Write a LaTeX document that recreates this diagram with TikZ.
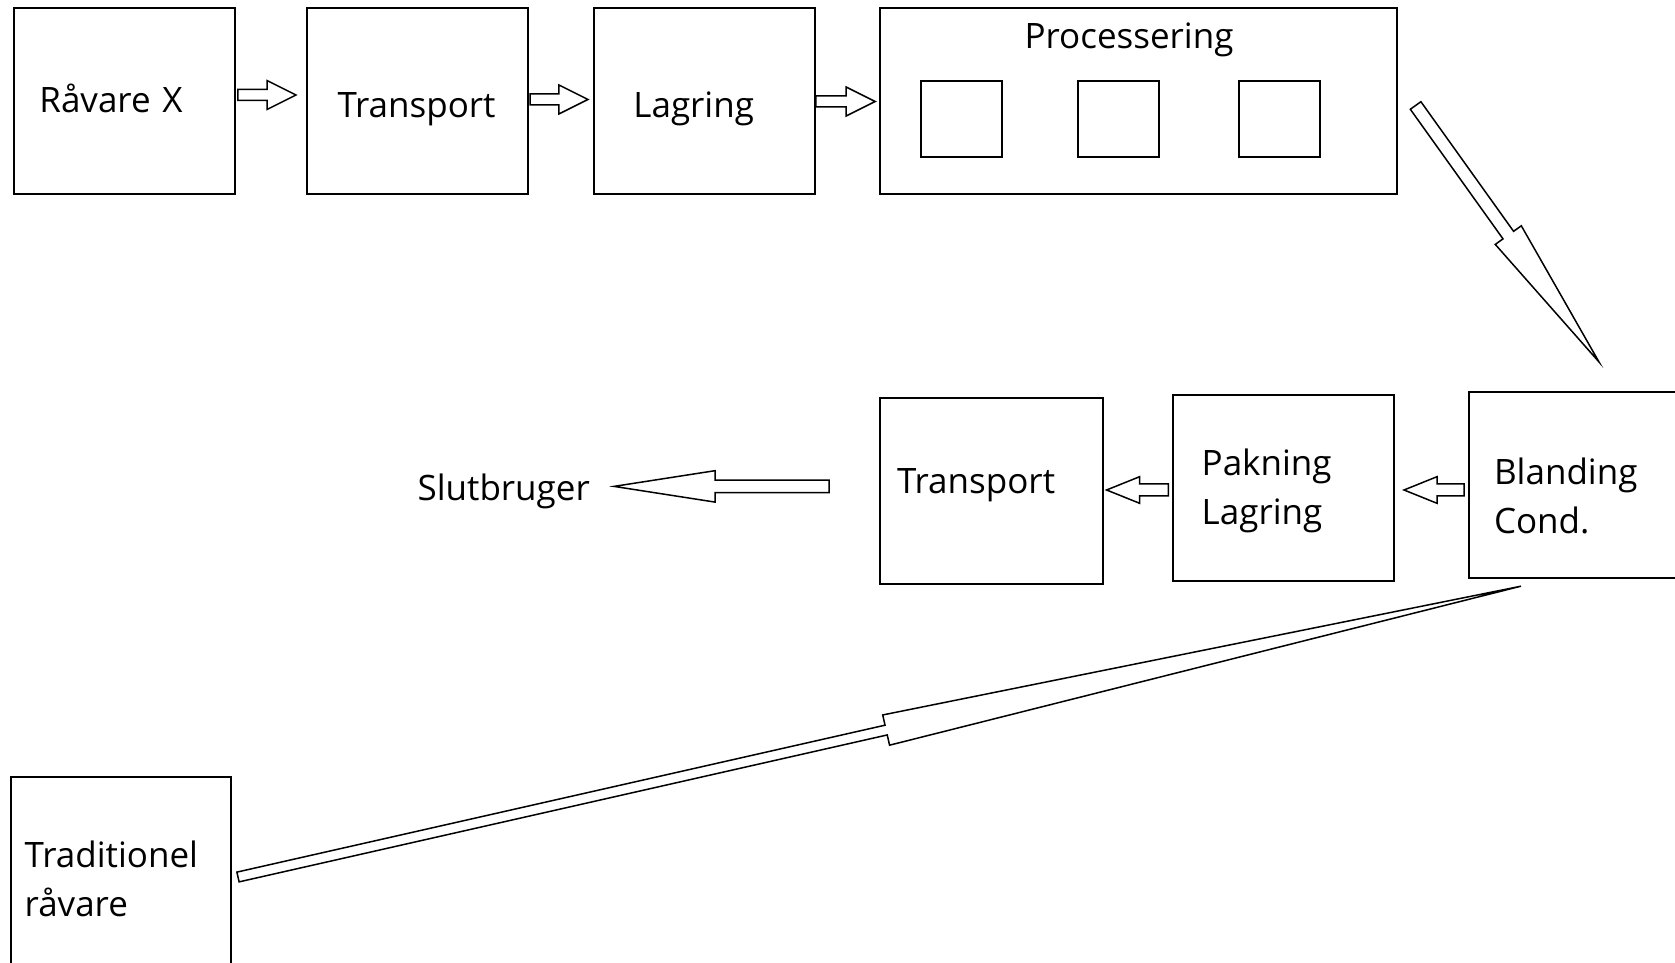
\documentclass[tikz,border=0pt]{standalone}
\usepackage{fontspec}
\setmainfont{Open Sans}
\usetikzlibrary{calc}
\tikzset{
  box/.style 2 args={draw, line width=2pt, minimum height=186pt, text width=#1-2*#2,
    inner xsep=#2, inner ysep=0pt, align=left, font=\fontsize{35}{49}\selectfont},
  sub/.style={draw, line width=2pt, minimum width=81pt, minimum height=76pt, inner sep=0pt},
  lbl/.style={inner sep=0pt, font=\fontsize{35}{49}\selectfont},
  arrowline/.style={draw=black, fill=white, line width=1.5pt, line join=miter},
}
% hollow block arrow: tail, tip, half shaft, half head, head length
\newcommand{\blockarrow}[5]{%
  \coordinate (hb) at ($(#2)!#5!(#1)$);
  \draw[arrowline] ($(#1)!#3!90:(#2)$) -- ($(hb)!#3!-90:(#1)$) -- ($(hb)!#4!-90:(#1)$)
    -- (#2) -- ($(hb)!#4!90:(#1)$) -- ($(hb)!#3!90:(#1)$) -- ($(#1)!#3!-90:(#2)$) -- cycle;}
\begin{document}
\begin{tikzpicture}[x=1pt,y=1pt]
\useasboundingbox (0,0) rectangle (1675,963);
\clip (0,0) rectangle (1675,963);
%% first row
\node[box={221pt}{25.5pt},text depth=6.4pt] (rawx) at (124.4,861.5) {Råvare X};
\node[box={221pt}{31pt},text height=40pt,text depth=8.4pt] (transp) at (417,861.5) {Transport};
\node[box={221pt}{39.5pt},text height=40pt,text depth=8.4pt] (lager) at (704.4,861.5) {Lagring};
\node[box={517pt}{0pt}] (proc) at (1138.6,861.5) {};
\node[lbl] (proctitle) at (1129,922.7) {Processering};
\foreach \x [count=\i] in {961.8,1118.2,1279}
  \node[sub] (pbox\i) at (\x,844) {};
%% second row
\node[box={231.5pt}{25.5pt},text height=48pt] (blend) at (1584.25,478) {Blanding\\Cond.};
\node[box={221pt}{29pt},text height=33pt] (pack) at (1283.2,475) {Pakning\\Lagring};
\node[box={223pt}{17pt},text height=25pt,text depth=19pt] (transp2) at (991.5,472) {Transport};
\node[lbl,anchor=east] (slut) at (590,472) {Slutbruger};
%% third row
\node[box={220pt}{14pt},minimum height=195.5pt,text height=33pt] (trad) at (120.7,87.75) {Traditionel\\råvare};
%% arrow ends
\coordinate (a1s) at ([shift={(2,6.5)}]rawx.east);
\coordinate (a1e) at ([shift={(-9.5,6.5)}]transp.west);
\coordinate (a2s) at ([shift={(1.5,2)}]transp.east);
\coordinate (a2e) at ([shift={(-5,2)}]lager.west);
\coordinate (a3s) at (lager.east);
\coordinate (a3e) at ([shift={(-4,0)}]proc.west);
\coordinate (a4s) at ([shift={(17.5,-4)}]proc.east);
\coordinate (a4e) at ([shift={(131.5,29)}]blend.north west);
\coordinate (a5s) at ([shift={(-3.5,-5)}]blend.west);
\coordinate (a5e) at ([shift={(9.3,-2)}]pack.east);
\coordinate (a6s) at ([shift={(-3.4,-2)}]pack.west);
\coordinate (a6e) at ([shift={(2.6,1)}]transp2.east);
\coordinate (a7s) at ([shift={(-50,4.6)}]transp2.west);
\coordinate (a7e) at ([shift={(24,4.6)}]slut.east);
\coordinate (a8s) at ([shift={(6.3,-1.75)}]trad.east);
\coordinate (a8e) at ([shift={(53.5,-7.2)}]blend.south west);
%% arrows
\blockarrow{a1s}{a1e}{5.5pt}{14.5pt}{29pt}
\blockarrow{a2s}{a2e}{5.5pt}{14.5pt}{29pt}
\blockarrow{a3s}{a3e}{5.5pt}{14.5pt}{29pt}
\blockarrow{a4s}{a4e}{6.5pt}{16pt}{156pt}
\blockarrow{a5s}{a5e}{6pt}{13.3pt}{33pt}
\blockarrow{a6s}{a6e}{6pt}{13.3pt}{33pt}
\blockarrow{a7s}{a7e}{6.2pt}{15.7pt}{101pt}
\blockarrow{a8s}{a8e}{5pt}{15.5pt}{651pt}
%
\end{tikzpicture}
\end{document}
